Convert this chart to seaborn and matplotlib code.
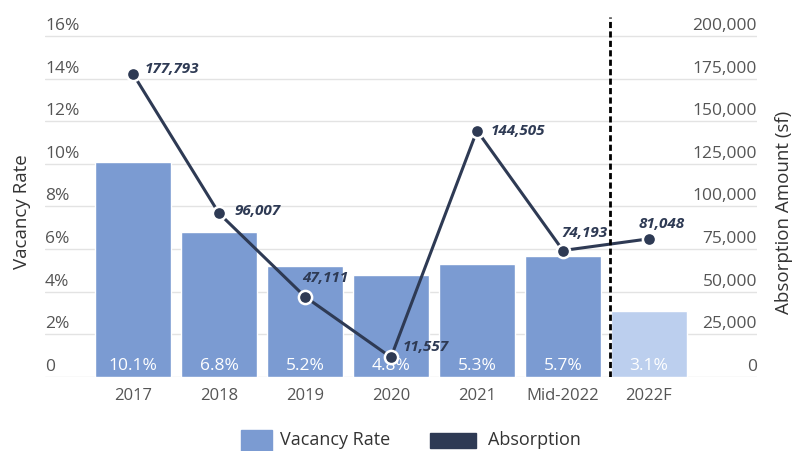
import matplotlib
matplotlib.use("Agg")
import matplotlib.pyplot as plt
import matplotlib.transforms as mtransforms
from matplotlib.patches import Rectangle
import seaborn as sns
import pandas as pd

categories = ["2017", "2018", "2019", "2020", "2021", "Mid-2022", "2022F"]
vacancy_rate = [10.1, 6.8, 5.2, 4.8, 5.3, 5.7, 3.1]
absorption = [177793, 96007, 47111, 11557, 144505, 74193, 81048]
left_ticks = [0, 2, 4, 6, 8, 10, 12, 14, 16]
right_ticks = [0, 25000, 50000, 75000, 100000, 125000, 150000, 175000, 200000]

BAR = "#7b9bd2"
BAR_F = "#bccfee"
NAVY = "#2e3a54"
GRID = "#e3e3e3"
TICK = "#555555"

sns.set_theme(style="white")
plt.rcParams["font.family"] = ["Open Sans", "DejaVu Sans"]

fig = plt.figure(figsize=(7.96, 4.51), dpi=100)
ax = fig.add_axes([45 / 796, 1 - 377 / 451, (757 - 45) / 796, (377 - 15) / 451])

df = pd.DataFrame({"cat": categories, "rate": vacancy_rate})
palette = [BAR] * (len(categories) - 1) + [BAR_F]
sns.barplot(data=df, x="cat", y="rate", hue="cat", palette=palette,
            width=0.88, legend=False, ax=ax, saturation=1, zorder=2)

ymax_l = 16 * (377 - 15) / (377 - 36)
ax.set_ylim(0, ymax_l)

for v in left_ticks:
    ax.axhline(v, color=GRID, lw=1, zorder=0)

ax.set_xticks(range(len(categories)))
ax.set_xticklabels(categories, fontsize=12, color=TICK)
ax.tick_params(axis="x", length=0, pad=8)
ax.set_yticks([])
ax.set_xlabel("")
ax.set_ylabel("")
for s in ax.spines.values():
    s.set_visible(False)

# bar value labels inside the base of each bar
for i, v in enumerate(vacancy_rate):
    ax.text(i, 0.15, f"{v}%", ha="center", va="bottom", fontsize=12.5,
            color="white", zorder=3)

# left tick labels sit above their gridlines
tl = mtransforms.blended_transform_factory(ax.transAxes, ax.transData)
off = mtransforms.ScaledTranslation(0, 2 / 100, fig.dpi_scale_trans)
for v in left_ticks:
    ax.text(0, v, "0" if v == 0 else f"{v}%", transform=tl + off,
            ha="left", va="bottom", fontsize=12.5, color=TICK)

ax2 = ax.twinx()
sns.lineplot(x=list(range(len(categories))), y=absorption, ax=ax2,
             color=NAVY, lw=2.2, marker="o", markersize=9.5,
             markeredgecolor="white", markeredgewidth=1.8, zorder=4)
ax2.set_ylim(0, 200000 * ymax_l / 16)
ax2.set_yticks([])
ax2.set_ylabel("")
for s in ax2.spines.values():
    s.set_visible(False)
ax.set_xlim(-1.023, 7.256)

tr = mtransforms.blended_transform_factory(ax2.transAxes, ax2.transData)
for v in right_ticks:
    ax2.text(1, v, f"{v:,}", transform=tr + off,
             ha="right", va="bottom", fontsize=12.5, color=TICK)

# forecast divider
ax2.axvline(5.55, ymin=0, ymax=(377 - 17) / (377 - 15), color="black",
            lw=2, ls=(0, (2.2, 1.2)), zorder=5)

# absorption value labels (offsets in pixels from each marker)
label_offsets = [(12, 5), (15, 2), (-3, 19), (12, 10), (14, 0), (-2, 18), (-10, 15)]
for i, (v, (dx, dy)) in enumerate(zip(absorption, label_offsets)):
    ax2.annotate(f"{v:,}", (i, v), xytext=(dx, dy), textcoords="offset pixels",
                 ha="left", va="center", fontsize=11, fontweight="bold",
                 fontstyle="italic", color=NAVY, zorder=6)

fig.text(22 / 796, 1 - 212 / 451, "Vacancy Rate", rotation=90, ha="center",
         va="center", fontsize=13.5, color="#333333")
fig.text(784 / 796, 1 - 212 / 451, "Absorption Amount (sf)", rotation=90,
         ha="center", va="center", fontsize=13.5, color="#333333")

# legend
fig.patches.append(Rectangle((241 / 796, 1 - 451 / 451), 31 / 796, 21 / 451,
                             transform=fig.transFigure, color=BAR))
fig.text(280 / 796, 1 - 440 / 451, "Vacancy Rate", ha="left", va="center",
         fontsize=13, color="#333333")
fig.patches.append(Rectangle((430 / 796, 1 - 448 / 451), 46 / 796, 15 / 451,
                             transform=fig.transFigure, color=NAVY))
fig.text(488 / 796, 1 - 440 / 451, "Absorption", ha="left", va="center",
         fontsize=13, color="#333333")

fig.savefig("out.png", dpi=100)
